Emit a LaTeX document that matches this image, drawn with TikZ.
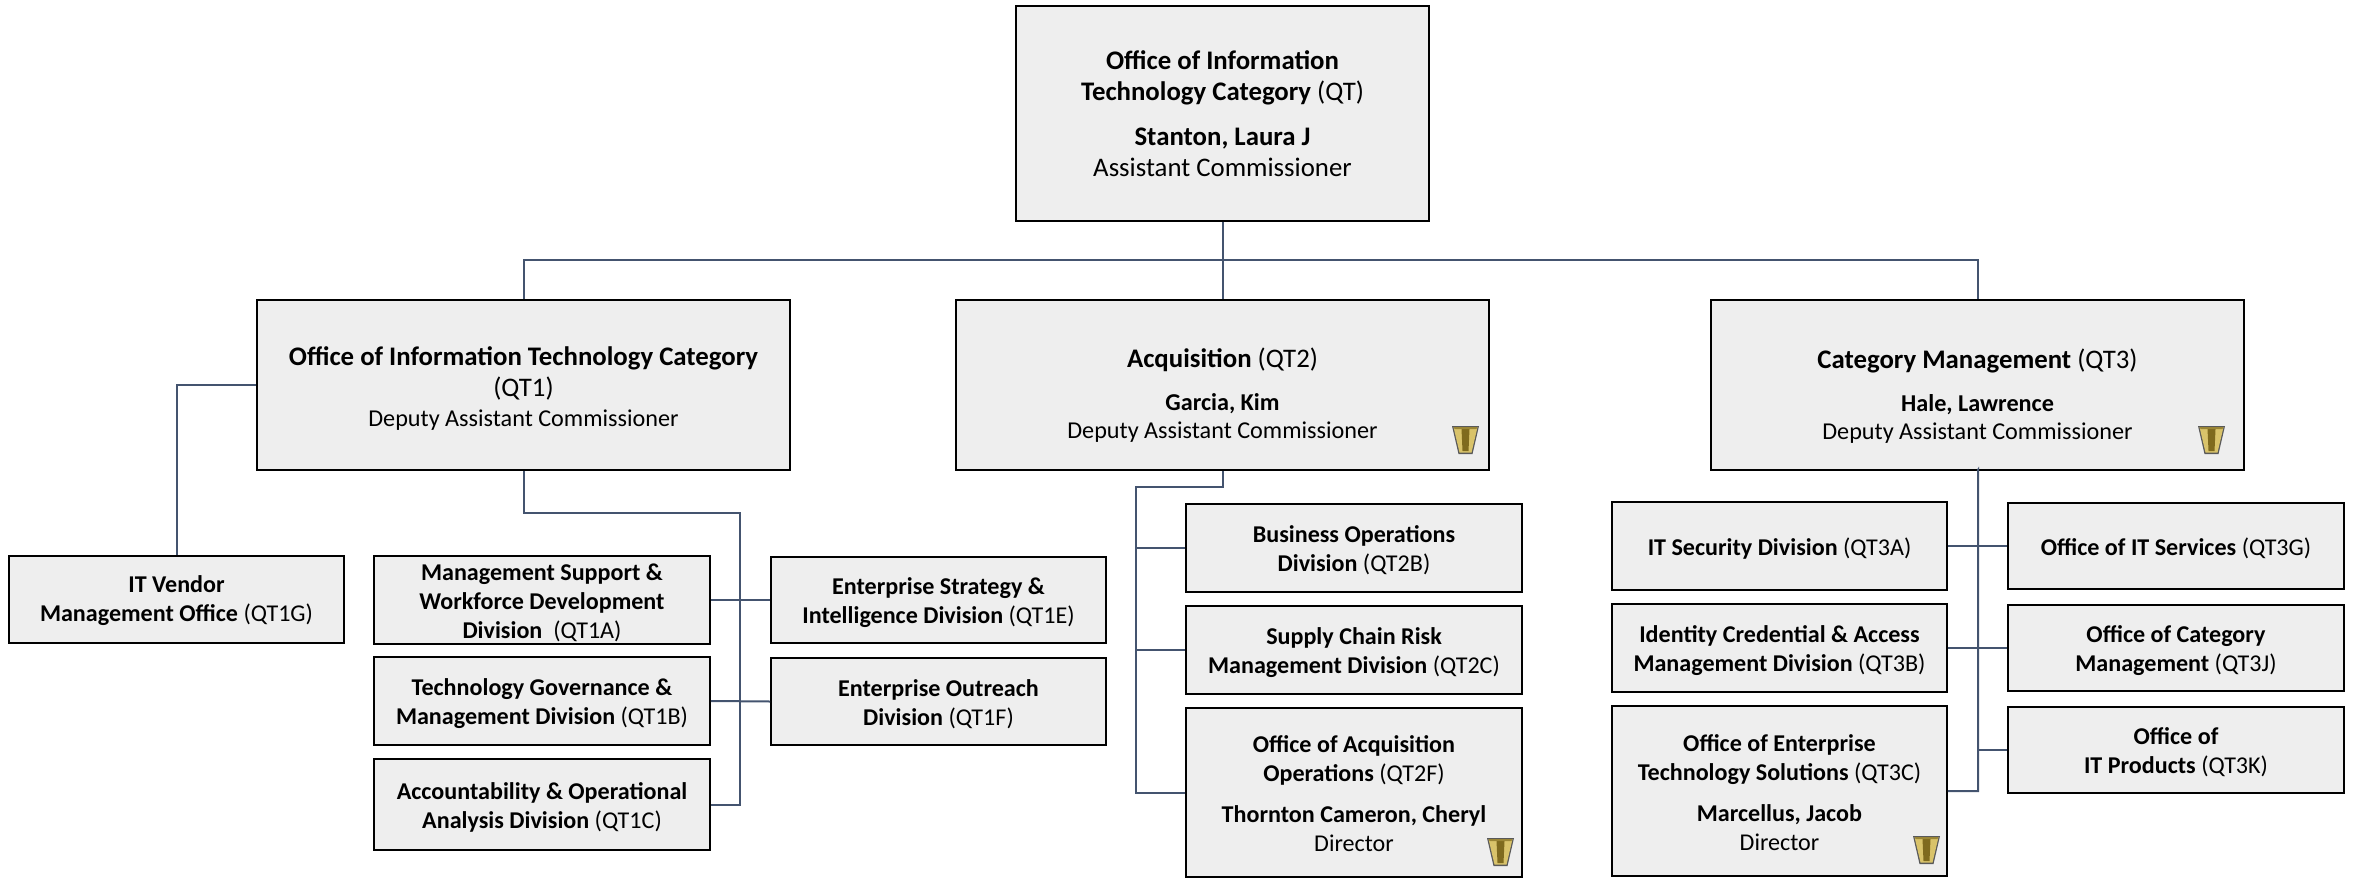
\documentclass[tikz,border=0pt]{standalone}
\usepackage{fontspec}
\setmainfont{Carlito}
\definecolor{boxfill}{HTML}{EEEEEE}
\definecolor{linkc}{HTML}{44546F}
\definecolor{gold}{HTML}{D9C36A}
\definecolor{golddark}{HTML}{7F6A1E}
\newcommand{\obox}[7][]{\node[orgbox,#1,minimum width=#5pt-#3pt,minimum height=#6pt-#4pt] (#2) at ({(#3+#5)/2},{-(#4+#6)/2}) {#7};}
\newcommand{\badge}[2]{% top-left x, y, 27x28
  \begin{scope}[shift={(#1,-#2)}]
    \fill[gray!70!black] (0,0) -- (27,0) -- (20.5,-28) -- (6.5,-28) -- cycle;
    \fill[gold] (1.5,-1) -- (25.5,-1) -- (19.5,-26.5) -- (7.5,-26.5) -- cycle;
    \fill[golddark] (9.5,-3) -- (17.5,-3) -- (16.5,-25) -- (10.5,-25) -- cycle;
    \fill[golddark!70!gold] (2,-1) -- (25,-1) -- (24.6,-3) -- (2.4,-3) -- cycle;
  \end{scope}}
\newcommand{\smalltxt}{\fontsize{24.2}{29}\selectfont}
\newcommand{\dn}[1]{\mbox{}\\[#1pt]}
\tikzset{x=1pt,y=1pt,
  orgbox/.style={draw=black,line width=1.6pt,fill=boxfill,inner sep=0pt,align=center,text=black,font=\fontsize{24.1}{29}\selectfont},
  bigbox/.style={font=\fontsize{26.8}{31.5}\selectfont},
  link/.style={draw=linkc,line width=2pt}}
\begin{document}
\begin{tikzpicture}
\useasboundingbox (0,0) rectangle (2354,-879);
\coordinate (hub) at (1222.5,-260);
\coordinate (t1) at (740,-513);
\coordinate (t2) at (1136,-487);
\coordinate (t3) at (1978,-470);
% boxes
\obox[bigbox]{qt}{1016}{6}{1429}{221}{\textbf{Office of Information}\\\textbf{Technology Category} (QT)\\[13pt]\textbf{Stanton, Laura J}\\Assistant Commissioner}
\obox[bigbox]{qta}{257}{300}{790}{470}{\dn{-5.5}\textbf{Office of Information Technology Category}\\(QT1)\\[-1.5pt]{\smalltxt Deputy Assistant Commissioner}}
\obox[bigbox]{qtb}{956}{300}{1489}{470}{\dn{8.5}\textbf{Acquisition} (QT2)\\[11pt]{\smalltxt\textbf{Garcia, Kim}}\\[-3.5pt]{\smalltxt Deputy Assistant Commissioner}}
\obox[bigbox]{qtc}{1711}{300}{2244}{470}{\dn{10.5}\textbf{Category Management} (QT3)\\[11pt]{\smalltxt\textbf{Hale, Lawrence}}\\[-3.5pt]{\smalltxt Deputy Assistant Commissioner}}
\obox{vendor}{9}{556}{344}{643}{\dn{-9}\textbf{IT Vendor}\\\textbf{Management Office} (QT1G)}
\obox{ma}{374}{556}{710}{644}{\dn{-7}\textbf{Management Support \&}\\\textbf{Workforce Development}\\\textbf{Division}\ \ (QT1A)}
\obox{mb}{374}{657}{710}{745}{\dn{-7}\textbf{Technology Governance \&}\\\textbf{Management Division} (QT1B)}
\obox{mc}{374}{759}{710}{850}{\dn{-7}\textbf{Accountability \& Operational}\\\textbf{Analysis Division} (QT1C)}
\obox{me}{771}{557}{1106}{643}{\dn{-7}\textbf{Enterprise Strategy \&}\\\textbf{Intelligence Division} (QT1E)}
\obox{mf}{771}{658}{1106}{745}{\dn{-7}\textbf{Enterprise Outreach}\\\textbf{Division} (QT1F)}
\obox{sb}{1186}{504}{1522}{592}{\dn{-7}\textbf{Business Operations}\\\textbf{Division} (QT2B)}
\obox{sc}{1186}{606}{1522}{694}{\dn{-7}\textbf{Supply Chain Risk}\\\textbf{Management Division} (QT2C)}
\obox{sf}{1186}{708}{1522}{877}{\dn{-9}\textbf{Office of Acquisition}\\\textbf{Operations} (QT2F)\\[12pt]\textbf{Thornton Cameron, Cheryl}\\Director}
\obox{ca}{1612}{502}{1947}{590}{\rule{0pt}{22pt}\textbf{IT Security Division} (QT3A)}
\obox{cb}{1612}{604}{1947}{692}{\dn{-7}\textbf{Identity Credential \& Access}\\\textbf{Management Division} (QT3B)}
\obox{cc}{1612}{706}{1947}{876}{\dn{-9}\textbf{Office of Enterprise}\\\textbf{Technology Solutions} (QT3C)\\[12pt]\textbf{Marcellus, Jacob}\\Director}
\obox{cg}{2008}{503}{2344}{589}{\rule{0pt}{22pt}\textbf{Office of IT Services} (QT3G)}
\obox{cj}{2008}{605}{2344}{691}{\dn{-7}\textbf{Office of Category}\\\textbf{Management} (QT3J)}
\obox{ck}{2008}{707}{2344}{793}{\dn{-7}\textbf{Office of}\\\textbf{IT Products} (QT3K)}
% links
\draw[link] (qt.south) -- (qtb.north);
\draw[link] (qta.north) |- (hub) -| (qtc.north);
\draw[link] (qta.west) -| (vendor.north);
\draw[link] (qta.south) |- (t1) |- (mc.east);
\draw[link] (ma.east) -- (me.west);
\draw[link] (mb.east) -- (mf.west);
\draw[link] (qtb.south) |- (t2) |- (sf.west);
\draw[link] (t2 |- sb.west) -- (sb.west);
\draw[link] (t2 |- sc.west) -- (sc.west);
\draw[link] (qtc.south) -- (t3) |- (cc.east);
\draw[link] (ca.east) -- (cg.west);
\draw[link] (cb.east) -- (cj.west);
\draw[link] (t3 |- ck.west) -- (ck.west);
% badges
\badge{1452}{426}
\badge{2198}{426}
\badge{1487}{838}
\badge{1913}{836}
\end{tikzpicture}
\end{document}
